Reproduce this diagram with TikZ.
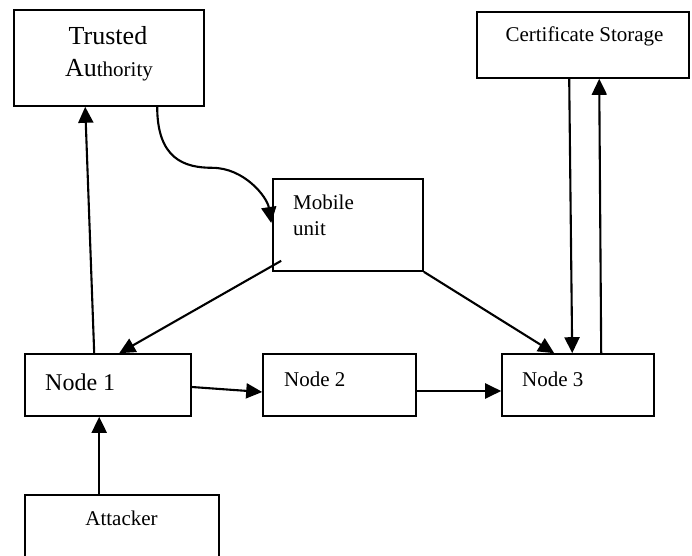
\documentclass[tikz,border=0pt]{standalone}
\usepackage{fontspec}
\setmainfont{Liberation Serif}
\usetikzlibrary{arrows.meta,calc}

\tikzset{
  box/.style={draw, line width=1.6pt, rectangle, inner sep=0pt},
  lbl/.style={inner sep=0pt, font=\fontsize{21}{25}\selectfont},
  link/.style={line width=2.1pt, -{Triangle[length=16pt,width=15pt]}},
}

\begin{document}
\begin{tikzpicture}[x=1pt,y=1pt]
  \useasboundingbox (0,0) rectangle (692,555);
  \clip (0,0) rectangle (692,555);

  % boxes
  \node[box, minimum width=190pt, minimum height=96pt] (ta)   at (109,497)   {};
  \node[box, minimum width=150pt, minimum height=92pt] (mu)   at (348,330)   {};
  \node[box, minimum width=212pt, minimum height=66pt] (cs)   at (583,510)   {};
  \node[box, minimum width=166pt, minimum height=62pt] (n1)   at (108,170)   {};
  \node[box, minimum width=153pt, minimum height=62pt] (n2)   at (339.5,170) {};
  \node[box, minimum width=152pt, minimum height=62pt] (n3)   at (578,170)   {};
  \node[box, minimum width=194pt, minimum height=76pt] (atk)  at (122,22)    {};

  % labels
  \node[lbl, anchor=base, font=\fontsize{26}{30}\selectfont] (taA) at (108,510) {Trusted};
  \node[lbl, anchor=base] (taB) at (109,478)
    {{\fontsize{26}{30}\selectfont Au}{\fontsize{21}{25}\selectfont thority}};
  \node[lbl, anchor=base west] (muA) at (293,345) {Mobile};
  \node[lbl, anchor=base west] (muB) at (293,320) {unit};
  \node[lbl, anchor=base] (csT) at (584.5,513) {Certificate Storage};
  \node[lbl, anchor=base west, font=\fontsize{24}{28}\selectfont] (n1T) at (45,165) {Node 1};
  \node[lbl, anchor=base west] (n2T) at (284,169) {Node 2};
  \node[lbl, anchor=base west] (n3T) at (522,169) {Node 3};
  \node[lbl, anchor=base] (atkT) at (121.5,30) {Attacker};

  % connectors
  \draw[link] ($(n1.north west)+(70,0)$) -- ($(ta.south west)+(72,0)$);
  \draw[link] ($(ta.south west)+(144,0)$)
      .. controls ($(ta.south west)+(144,-52)$) and ($(ta.south west)+(171,-61)$) .. ($(ta.south west)+(199,-61)$)
      .. controls ($(ta.south west)+(231,-61)$) and ($(mu.west)+(-5,28)$) .. ($(mu.west)+(-1,2)$);
  \draw[link] ($(mu.south west)+(9,11)$) -- ($(n1.north west)+(95,0)$);
  \draw[link] (mu.south east) -- ($(n3.north west)+(53,0)$);
  \draw[link] ($(cs.south west)+(93,0)$) -- ($(n3.north west)+(71,0)$);
  \draw[link] ($(n3.north west)+(100,0)$) -- ($(cs.south west)+(123,0)$);
  \draw[link] ($(n1.east)+(0,-2)$) -- ($(n2.west)+(0,-7)$);
  \draw[link] ($(n2.east)+(0,-6)$) -- ($(n3.west)+(0,-6)$);
  \draw[link] ($(atk.north west)+(75,0)$) -- ($(n1.south west)+(75,0)$);
\end{tikzpicture}
\end{document}
